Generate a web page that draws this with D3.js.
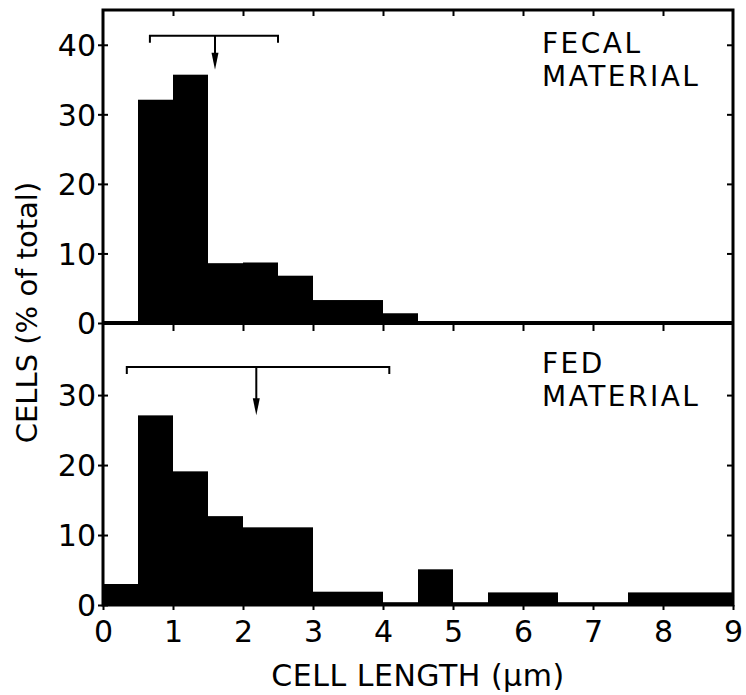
<!DOCTYPE html>
<html>
  <head>
    <meta charset="UTF-8" />
    <script src="https://cdn.jsdelivr.net/npm/d3@7"></script>
    <style>
      body { margin: 0; background: #fff; }
    </style>
  </head>
  <body>
    <svg></svg>
    <script>
      // 1. data (0.5 µm bins, % of total cells)
      const binStarts = [0, 0.5, 1, 1.5, 2, 2.5, 3, 3.5, 4, 4.5, 5, 5.5, 6, 6.5, 7, 7.5, 8, 8.5];
      const binWidth = 0.5;
      const fecalPct = [0, 32.1, 35.7, 8.6, 8.7, 6.8, 3.3, 3.3, 1.4, 0, 0, 0, 0, 0, 0, 0, 0, 0];
      const fedPct = [3.0, 27.1, 19.1, 12.7, 11.1, 11.1, 1.9, 1.9, 0.4, 5.1, 0.4, 1.8, 1.8, 0.4, 0.4, 1.8, 1.8, 1.8];
      const fecalRange = [0.67, 2.5];
      const fecalMean = 1.6;
      const fedRange = [0.34, 4.09];
      const fedMean = 2.19;
      const xTicks = [0, 1, 2, 3, 4, 5, 6, 7, 8, 9];
      const fecalTicks = [0, 10, 20, 30, 40];
      const fedTicks = [0, 10, 20, 30];

      // 2. layout
      const width = 746;
      const height = 695;
      const pLeft = 103, pRight = 733, pTop = 10, pMid = 323, pBottom = 605;
      const font = "'DejaVu Sans', sans-serif";

      const svg = d3
        .select('svg')
        .attr('width', width)
        .attr('height', height)
        .style('font-family', font);

      const x = d3.scaleLinear().domain([0, 9]).range([pLeft, pRight]);
      const yTop = d3.scaleLinear().domain([0, 45]).range([pMid, pTop]);
      const yBot = d3.scaleLinear().domain([0, 40.3]).range([pBottom, pMid]);

      const panels = [
        { values: fecalPct, y: yTop, ticks: fecalTicks, range: fecalRange, mean: fecalMean,
          bracketAt: 41.3, arrowTo: 36.4, labels: ['FECAL', 'MATERIAL'], labelY: [53, 86] },
        { values: fedPct, y: yBot, ticks: fedTicks, range: fedRange, mean: fedMean,
          bracketAt: 34, arrowTo: 27.1, labels: ['FED', 'MATERIAL'], labelY: [373, 406] }
      ];

      // 3. bars + brackets
      panels.forEach((p) => {
        svg
          .append('g')
          .selectAll('rect')
          .data(binStarts.map((s, i) => ({ s, v: p.values[i] })).filter((d) => d.v > 0))
          .join('rect')
          .attr('x', (d) => x(d.s))
          .attr('width', (d) => x(d.s + binWidth) - x(d.s))
          .attr('y', (d) => p.y(d.v))
          .attr('height', (d) => p.y(0) - p.y(d.v))
          .attr('fill', '#000');

        const by = p.y(p.bracketAt);
        const ty = p.y(p.arrowTo);
        svg
          .append('path')
          .attr('fill', 'none')
          .attr('stroke', '#000')
          .attr('stroke-width', 2)
          .attr('d', `M${x(p.range[0])},${by + 7}V${by}H${x(p.range[1])}V${by + 7}M${x(p.mean)},${by}V${ty - 14}`);
        svg
          .append('path')
          .attr('fill', '#000')
          .attr('d', `M${x(p.mean) - 3.5},${ty - 17}L${x(p.mean) + 3.5},${ty - 17}L${x(p.mean)},${ty}Z`);

        const lab = svg
          .append('g')
          .attr('font-size', 28)
          .style('letter-spacing', '2.5px');
        p.labels.forEach((t, i) => {
          lab.append('text').attr('x', 542).attr('y', p.labelY[i]).text(t);
        });
      });

      // 4. axes
      panels.forEach((p) => {
        const ax = svg
          .append('g')
          .attr('transform', `translate(${pLeft},0)`)
          .call(d3.axisLeft(p.y).tickValues(p.ticks).tickSize(5).tickPadding(2))
          .attr('font-size', 30)
          .attr('font-family', font);
        ax.select('.domain').remove();
        ax.selectAll('.tick line').attr('x1', 5).attr('stroke-width', 2);
        ax.selectAll('.tick text').attr('dy', '0.36em');

        const ar = svg
          .append('g')
          .attr('transform', `translate(${pRight},0)`)
          .call(d3.axisLeft(p.y).tickValues(p.ticks.filter((t) => t > 0)).tickSize(-6).tickFormat(''));
        ar.select('.domain').remove();
        ar.selectAll('.tick line').attr('x2', -6).attr('stroke-width', 2);
      });

      const inner = xTicks.filter((t) => t > 0 && t < 9);
      [
        { y: pTop, size: -6 },
        { y: pMid, size: -8 }
      ].forEach((a) => {
        const g = svg
          .append('g')
          .attr('transform', `translate(0,${a.y})`)
          .call(d3.axisTop(x).tickValues(inner).tickSize(a.size).tickFormat(''));
        g.select('.domain').remove();
        g.selectAll('.tick line').attr('stroke-width', 2);
      });

      const xa = svg
        .append('g')
        .attr('transform', `translate(0,${pBottom})`)
        .call(d3.axisBottom(x).tickValues(xTicks).tickSize(5).tickPadding(11))
        .attr('font-size', 30)
        .attr('font-family', font);
      xa.select('.domain').remove();
      xa.selectAll('.tick line').attr('stroke-width', 2);
      xa.selectAll('.tick text').attr('dy', '0.71em');

      // 5. frame
      svg
        .append('rect')
        .attr('x', pLeft)
        .attr('y', pTop)
        .attr('width', pRight - pLeft)
        .attr('height', pBottom - pTop)
        .attr('fill', 'none')
        .attr('stroke', '#000')
        .attr('stroke-width', 3);
      svg
        .append('line')
        .attr('x1', pLeft)
        .attr('x2', pRight)
        .attr('y1', pMid)
        .attr('y2', pMid)
        .attr('stroke', '#000')
        .attr('stroke-width', 4);

      // 6. titles
      svg
        .append('text')
        .attr('x', x(4.5))
        .attr('y', 686)
        .attr('text-anchor', 'middle')
        .attr('font-size', 30)
        .style('letter-spacing', '0.5px')
        .text('CELL LENGTH (µm)');
      svg
        .append('text')
        .attr('transform', `translate(37,${(pTop + pBottom) / 2 + 5}) rotate(-90)`)
        .attr('text-anchor', 'middle')
        .attr('font-size', 29)
        .text('CELLS (% of total)');
    </script>
  </body>
</html>
